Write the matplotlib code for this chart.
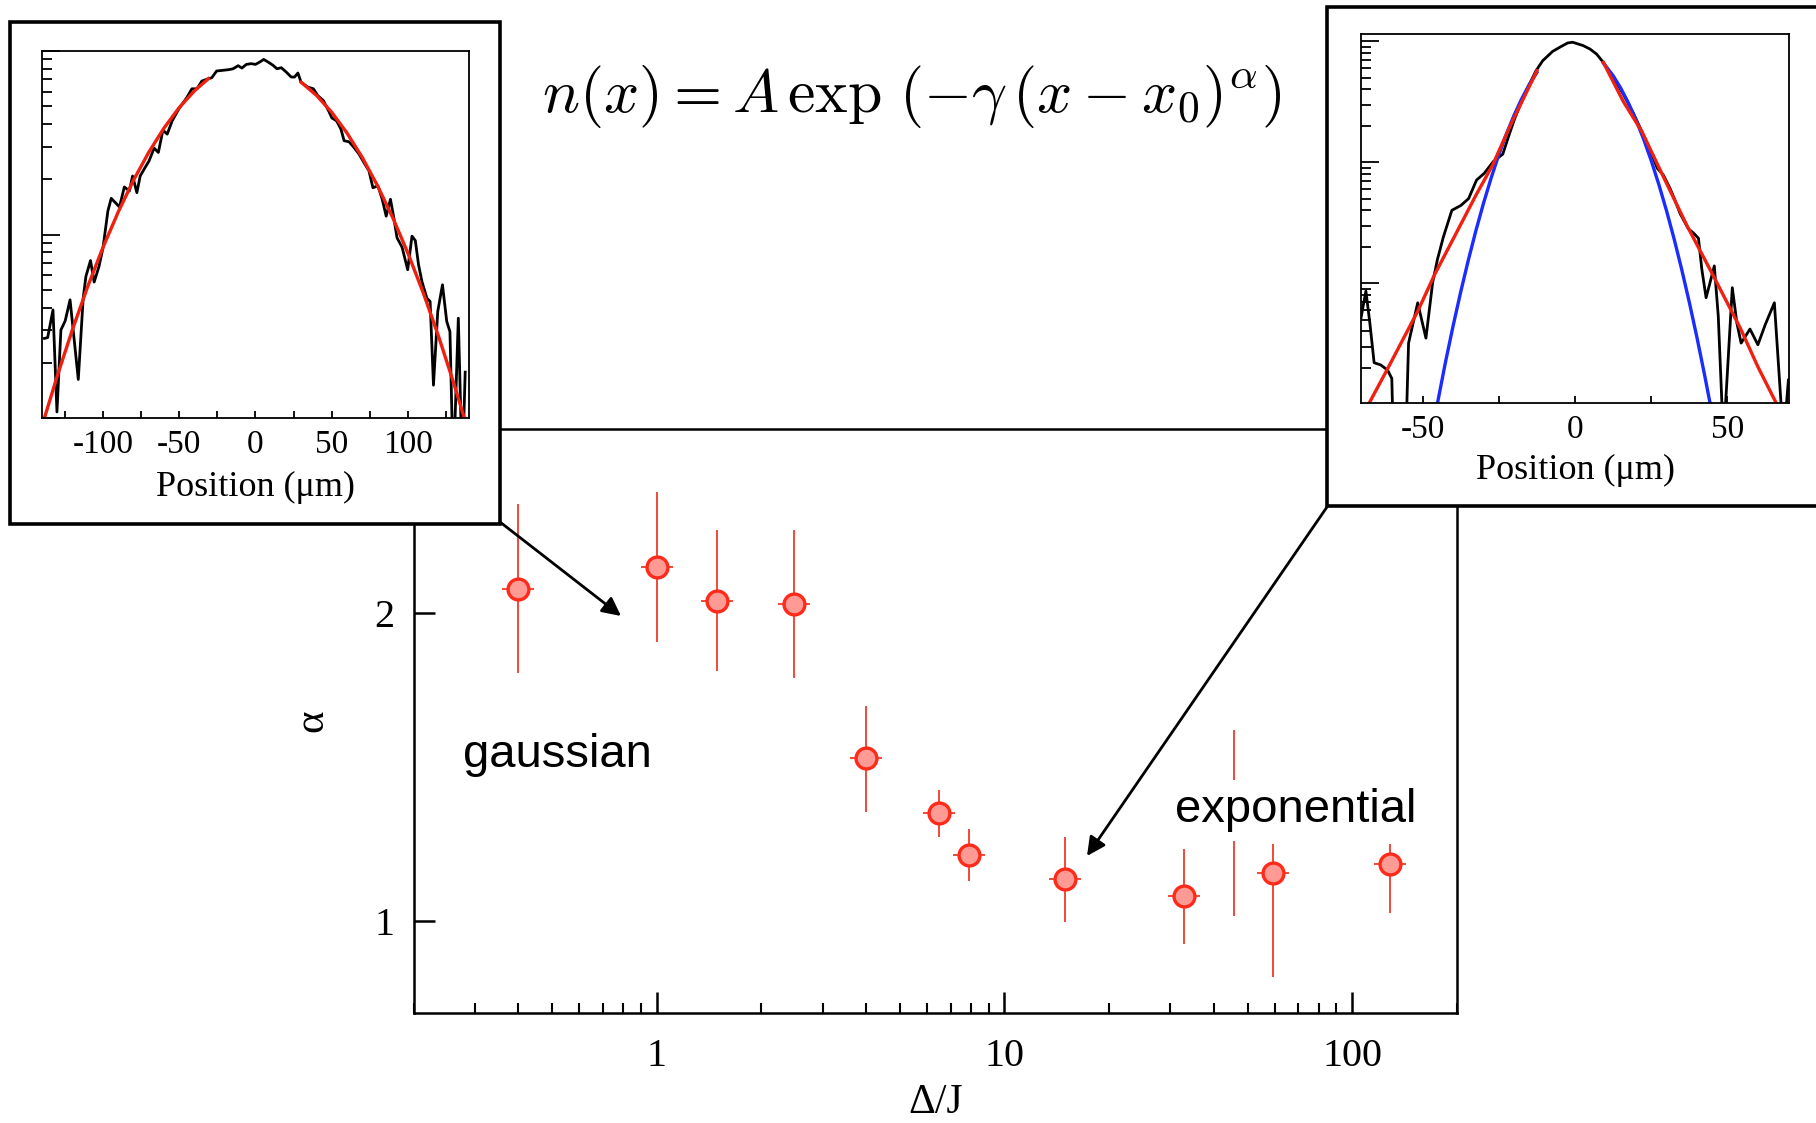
import numpy as np
import matplotlib
matplotlib.use("Agg")
import matplotlib.pyplot as plt
from matplotlib.patches import Rectangle, FancyArrowPatch
from matplotlib.ticker import MultipleLocator, LogLocator, NullFormatter, FixedLocator

plt.rcParams['mathtext.fontset'] = 'cm'

# ---------------- data: main panel ----------------
delta_J = [0.40, 1.0, 1.49, 2.48, 3.99, 6.49, 7.93, 14.9, 32.8, 45.7, 59.3, 128.5]
alpha_val = [2.08, 2.15, 2.04, 2.03, 1.53, 1.35, 1.215, 1.136, 1.08, 1.32, 1.155, 1.186]
alpha_err_hi = [0.275, 0.244, 0.231, 0.243, 0.168, 0.074, 0.083, 0.137, 0.154, 0.30, 0.095, 0.064]
alpha_err_lo = [0.273, 0.243, 0.228, 0.241, 0.175, 0.076, 0.085, 0.140, 0.155, 0.305, 0.339, 0.161]
x_ticks_main = [1, 10, 100]
x_ticklabels_main = ['1', '10', '100']
y_ticks_main = [1, 2]
y_ticklabels_main = ['1', '2']

# ---------------- data: left inset (gaussian profile, log10 density) ----------------
pos1 = [-138.4, -136.3, -132.8, -130.2, -127.6, -124.8, -121.6, -116.2, -113.0, -111.2,
        -108.2, -105.8, -102.6, -100.0, -96.8, -94.6, -89.2, -86.0, -82.7, -80.6,
        -77.8, -75.6, -72.4, -69.8, -66.5, -63.7, -60.7, -57.9, -54.6, -50.3,
        -44.9, -41.7, -38.4, -35.2, -30.9, -28.7, -25.5, -22.2, -17.9, -14.7,
        -11.4, -8.9, -6.0, -2.8, 0.0, 2.8, 5.4, 8.2, 11.5, 14.1,
        16.9, 20.2, 23.4, 25.6, 27.8, 29.9, 34.3, 38.0, 40.8, 44.5,
        48.4, 50.1, 53.1, 56.0, 58.1, 61.4, 64.6, 67.9, 71.1, 74.4,
        77.0, 80.3, 83.1, 85.7, 88.5, 90.7, 92.8, 96.1, 99.8, 102.6,
        104.8, 106.9, 109.1, 112.4, 114.5, 116.7, 119.5, 122.6, 125.4, 127.5,
        129.7, 133.0, 135.6, 137.5]
logn1 = [-0.566, -0.562, -0.411, -0.967, -0.520, -0.471, -0.356, -0.790, -0.347, -0.228,
         -0.142, -0.259, -0.173, -0.073, 0.128, 0.197, 0.150, 0.259, 0.237, 0.319,
         0.228, 0.319, 0.365, 0.401, 0.471, 0.447, 0.569, 0.547, 0.620, 0.684,
         0.748, 0.794, 0.794, 0.836, 0.849, 0.854, 0.891, 0.894, 0.898, 0.903,
         0.920, 0.907, 0.927, 0.931, 0.927, 0.940, 0.954, 0.940, 0.922, 0.903,
         0.909, 0.885, 0.858, 0.858, 0.880, 0.830, 0.803, 0.794, 0.757, 0.730,
         0.666, 0.635, 0.620, 0.575, 0.511, 0.505, 0.474, 0.438, 0.392, 0.347,
         0.255, 0.265, 0.192, 0.100, 0.192, 0.091, -0.018, -0.069, -0.192, -0.009,
         -0.033, -0.164, -0.255, -0.347, -0.365, -0.821, -0.420, -0.274, -0.474, -0.529,
         -1.3, -0.456, -1.3, -0.75]
fit1_left_pos = [-138.4, -130, -120, -110, -100, -90, -80, -70, -60, -50, -40, -30.9]
fit1_left_logn = [-1.0, -0.771, -0.517, -0.283, -0.070, 0.123, 0.296, 0.448, 0.580, 0.692, 0.783, 0.849]
fit1_right_pos = [29.9, 40, 50, 60, 70, 80, 90, 100, 110, 120, 130, 136.9]
fit1_right_logn = [0.830, 0.758, 0.666, 0.553, 0.420, 0.266, 0.092, -0.103, -0.318, -0.554, -0.810, -1.0]
inset1_ticklabels = [-100, -50, 0, 50, 100]

# ---------------- data: right inset (exponential profile, log10 density) ----------------
pos2 = [-70.3, -68.6, -67.3, -65.9, -63.7, -61.5, -60.1, -59.6, -55.5, -54.6,
        -51.6, -48.9, -46.7, -45.1, -43.2, -40.4, -37.4, -34.9, -32.3, -29.8,
        -26.8, -23.7, -21.6, -19.9, -17.7, -15.5, -12.8, -10.6, -7.3, -4.6,
        -2.4, -0.8, 2.7, 4.9, 7.1, 9.3, 12.6, 15.9, 19.1, 21.9,
        24.6, 27.0, 29.0, 31.2, 32.8, 34.5, 37.2, 38.8, 40.5, 41.6,
        43.0, 44.3, 45.7, 47.0, 48.7, 51.6, 53.1, 54.5, 57.4, 60.0,
        62.4, 65.4, 68.4, 70.0]
logn2 = [-0.300, -0.064, -0.328, -0.656, -0.675, -0.717, -0.786, -1.3, -1.3, -0.494,
         -0.161, -0.453, 0.006, 0.200, 0.381, 0.603, 0.644, 0.700, 0.853, 0.908,
         1.006, 1.067, 1.228, 1.353, 1.492, 1.617, 1.756, 1.839, 1.917, 1.956,
         1.986, 1.992, 1.964, 1.936, 1.894, 1.825, 1.700, 1.561, 1.408, 1.256,
         1.103, 0.950, 0.894, 0.783, 0.686, 0.575, 0.450, 0.417, 0.372, 0.117,
         -0.119, 0.006, 0.144, -0.272, -1.3, -0.036, -0.328, -0.494, -0.378, -0.508,
         -0.342, -0.161, -1.3, -0.8]
fit2_red_left_pos = [-67.5, -62.0, -51.6, -46.0, -39.1, -32.5, -27.0, -21.6, -12.5]
fit2_red_left_logn = [-0.989, -0.731, -0.231, 0.075, 0.408, 0.728, 0.978, 1.283, 1.756]
fit2_red_right_pos = [9.3, 15.9, 21.9, 29.0, 36.7, 45.4, 54.2, 60.0, 66.0]
fit2_red_right_logn = [1.825, 1.50, 1.256, 0.88, 0.478, 0.061, -0.369, -0.69, -0.989]
fit2_blue_left_pos = [-45.1, -42.5, -40, -37.5, -35, -32.5, -30, -27.5, -25, -22.5, -20, -17.5, -15, -12.5]
fit2_blue_left_logn = [-0.989, -0.653, -0.353, -0.072, 0.191, 0.436, 0.663, 0.871, 1.062, 1.234, 1.388, 1.524, 1.642, 1.742]
fit2_blue_right_pos = [9.3, 12.5, 15, 17.5, 20, 22.5, 25, 27.5, 30, 32.5, 35, 37.5, 40, 42.5, 44.3]
fit2_blue_right_logn = [1.820, 1.716, 1.613, 1.491, 1.351, 1.192, 1.014, 0.817, 0.602, 0.368, 0.115, -0.157, -0.447, -0.756, -0.990]
inset2_ticklabels = [-50, 0, 50]

# ---------------- styles ----------------
W, H = 1816, 1123
def fx(x):
    return x / W
def fy(y):
    return 1 - y / H

SERIF = 'Liberation Serif'
SANS = 'Liberation Sans'
RED_EDGE = '#ff2a1a'
RED_FILL = '#ff9a94'
RED_LINE = '#ee2a18'
FIT_RED = '#f02010'
FIT_BLUE = '#1a2cff'

fig = plt.figure(figsize=(W / 100, H / 100), dpi=100)

# ---------------- main axes ----------------
ax = fig.add_axes([fx(413.5), fy(1013), (1457 - 413.5) / W, (1013 - 429) / H])
ax.set_zorder(0)
ax.set_xscale('log')
ax.set_xlim(0.2, 200)
ax.set_ylim(0.7, 2.6)
x = np.array(delta_J)
xf = 10 ** 0.046
ax.errorbar(x, alpha_val, yerr=[alpha_err_lo, alpha_err_hi],
            xerr=[x - x / xf, x * xf - x], fmt='none', ecolor=RED_LINE,
            elinewidth=1.2, capsize=0, zorder=2)
ax.plot(x, alpha_val, 'o', ms=15, mfc=RED_FILL, mec=RED_EDGE, mew=2.4, zorder=3)
ax.xaxis.set_major_locator(FixedLocator(x_ticks_main))
ax.set_xticklabels(x_ticklabels_main)
ax.xaxis.set_minor_locator(LogLocator(base=10, subs=np.arange(2, 10)))
ax.xaxis.set_minor_formatter(NullFormatter())
ax.set_yticks(y_ticks_main)
ax.set_yticklabels(y_ticklabels_main)
ax.tick_params(axis='both', which='major', direction='in', length=15, width=1.8,
               labelsize=29, top=False, right=False)
ax.tick_params(axis='x', which='major', pad=18)
ax.tick_params(axis='y', which='major', pad=14)
ax.tick_params(axis='x', which='minor', direction='in', length=7.5, width=1.5, top=False)
for lab in ax.get_xticklabels() + ax.get_yticklabels():
    lab.set_fontfamily(SERIF)
for s in ax.spines.values():
    s.set_linewidth(1.8)
ax.set_xlabel('Δ/J', fontsize=30, family=SERIF, labelpad=6)
ax.set_ylabel('α', fontsize=31, family=SERIF, labelpad=31)

# ---------------- inset frames ----------------
fig.add_artist(Rectangle((fx(10), fy(524)), (500 - 10) / W, (524 - 22) / H,
                         transform=fig.transFigure, facecolor='white', edgecolor='black',
                         linewidth=2.6, zorder=1))
fig.add_artist(Rectangle((fx(1327), fy(506)), (1830 - 1327) / W, (506 - 7) / H,
                         transform=fig.transFigure, facecolor='white', edgecolor='black',
                         linewidth=2.6, zorder=1, clip_on=False))

def style_inset(a, major_step, labels, labelpad):
    a.set_yscale('log')
    a.xaxis.set_major_locator(FixedLocator(labels))
    a.set_xticklabels([str(v) for v in labels])
    a.xaxis.set_minor_locator(MultipleLocator(major_step / 2))
    a.yaxis.set_major_locator(LogLocator(base=10))
    a.yaxis.set_minor_locator(LogLocator(base=10, subs=np.arange(2, 10)))
    a.yaxis.set_major_formatter(NullFormatter())
    a.yaxis.set_minor_formatter(NullFormatter())
    a.tick_params(axis='x', which='both', direction='in', length=5, width=1.3,
                  labelsize=24, top=False, pad=8)
    a.tick_params(axis='y', which='major', direction='in', length=13, width=1.3, right=False)
    a.tick_params(axis='y', which='minor', direction='in', length=7, width=1.3, right=False)
    for lab in a.get_xticklabels():
        lab.set_fontfamily(SERIF)
    for s in a.spines.values():
        s.set_linewidth(1.3)
    a.set_xlabel('Position (μm)', fontsize=26, family=SERIF, labelpad=labelpad)

# ---------------- left inset ----------------
a1 = fig.add_axes([fx(42), fy(418), (469 - 42) / W, (418 - 51) / H])
a1.set_zorder(2)
a1.plot(pos1, 10 ** np.array(logn1), color='black', lw=2.0)
a1.plot(fit1_left_pos, 10 ** np.array(fit1_left_logn), color=FIT_RED, lw=2.4)
a1.plot(fit1_right_pos, 10 ** np.array(fit1_right_logn), color=FIT_RED, lw=2.4)
style_inset(a1, 50, inset1_ticklabels, 8)
a1.set_xlim(-140, 140)
a1.set_ylim(0.1, 10)

# ---------------- right inset ----------------
a2 = fig.add_axes([fx(1360.7), fy(403), (1789.3 - 1360.7) / W, (403 - 34) / H])
a2.set_zorder(2)
a2.plot(pos2, 10 ** np.array(logn2), color='black', lw=2.0)
a2.plot(fit2_blue_left_pos, 10 ** np.array(fit2_blue_left_logn), color=FIT_BLUE, lw=2.4)
a2.plot(fit2_blue_right_pos, 10 ** np.array(fit2_blue_right_logn), color=FIT_BLUE, lw=2.4)
a2.plot(fit2_red_left_pos, 10 ** np.array(fit2_red_left_logn), color=FIT_RED, lw=2.4)
a2.plot(fit2_red_right_pos, 10 ** np.array(fit2_red_right_logn), color=FIT_RED, lw=2.4)
style_inset(a2, 50, inset2_ticklabels, 7)
a2.set_xlim(-70.3, 70.3)
a2.set_ylim(10 ** -0.989, 10 ** 2.06)

# ---------------- annotations ----------------
fig.text(fx(463), fy(767), 'gaussian', fontsize=34, family=SANS, va='baseline', zorder=5)
fig.text(fx(1175), fy(822), 'exponential', fontsize=34, family=SANS, va='baseline', zorder=5,
         bbox=dict(facecolor='white', edgecolor='none', pad=6))
fig.text(fx(912), fy(96), r'$n(x) = A\,\exp\,(-\gamma\,(x - x_0)^{\alpha})$',
         fontsize=44.5, ha='center', va='center', zorder=5)

for (x0, y0), (x1, y1) in [((500, 522), (621, 616)), ((1327, 507), (1087, 856))]:
    fig.add_artist(FancyArrowPatch((fx(x0), fy(y0)), (fx(x1), fy(y1)),
                                   transform=fig.transFigure, arrowstyle='-|>',
                                   mutation_scale=28, lw=2.0, color='black',
                                   shrinkA=0, shrinkB=0, zorder=6))

fig.savefig('out.png', dpi=100)
